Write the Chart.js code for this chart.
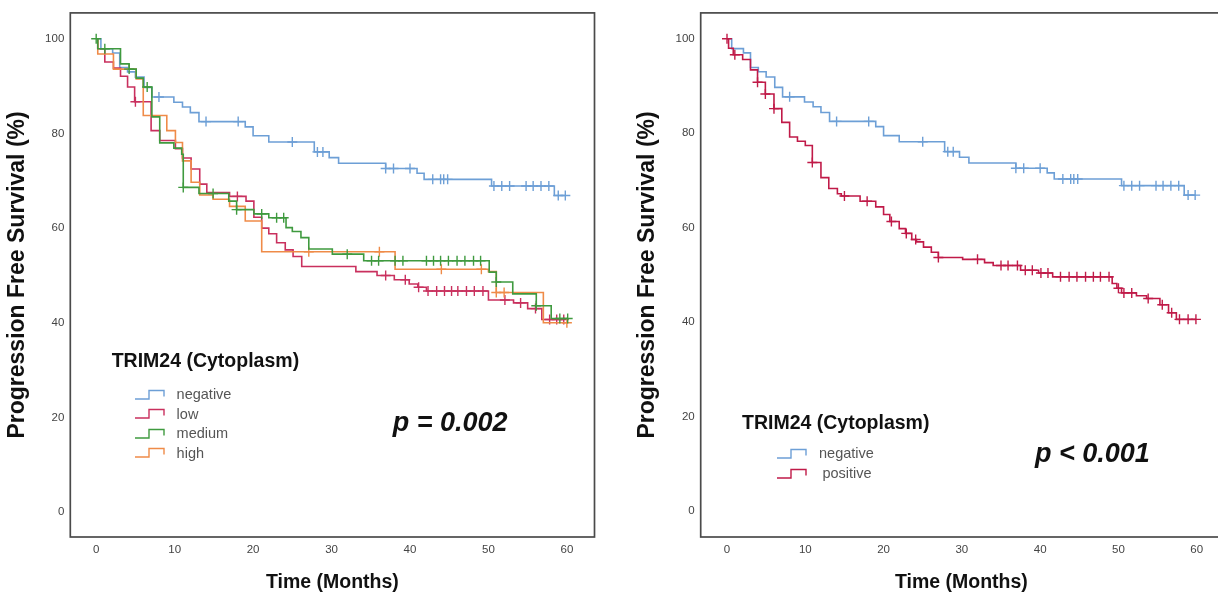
<!DOCTYPE html>
<html>
<head>
<meta charset="utf-8">
<script src="https://cdn.jsdelivr.net/npm/chart.js@4.4.1/dist/chart.umd.min.js"></script>
<style>
html,body{margin:0;padding:0;width:1218px;height:596px;overflow:hidden;background:#fff;font-family:"Liberation Sans",Arial,sans-serif;}
.wrap{position:absolute;top:0;height:596px;}
#w1{left:0;width:609px;}
#w2{left:630px;width:600px;}
.lt{position:absolute;font-weight:bold;font-size:19.5px;line-height:22px;color:#111;white-space:nowrap;}
.li{position:absolute;font-size:14.5px;line-height:18px;color:#555;white-space:nowrap;}
.ic{position:absolute;width:32px;height:11px;}
.pv{position:absolute;font-weight:bold;font-style:italic;font-size:27px;line-height:30px;color:#111;white-space:nowrap;}
</style>
</head>
<body>
<div class="wrap" id="w1"><canvas id="c1" width="609" height="596"></canvas></div>
<div class="wrap" id="w2"><canvas id="c2" width="600" height="596"></canvas></div>

<div id="overlay"></div>

<script>
// ---------- data ----------
const xTicks = [0, 10, 20, 30, 40, 50, 60];
const yTicks = [0, 20, 40, 60, 80, 100];

const legendTitle = "TRIM24 (Cytoplasm)";
const leftLabels = ["negative", "low", "medium", "high"];
const rightLabels = ["negative", "positive"];
const leftP = "p = 0.002";
const rightP = "p < 0.001";

// negative (same group in both panels)
const negTimes = [0, 0.6, 2.1, 3.0, 4.0, 5.0, 6.1, 7.1, 9.9, 11.0, 12.0, 13.1, 19.0, 20.0, 22.0, 27.8, 29.7, 30.9, 36.9, 40.9, 41.8, 50.4, 58.4];
const negSurv  = [100, 97.9, 97.0, 93.9, 93.0, 91.9, 89.7, 87.7, 86.6, 85.6, 84.4, 82.5, 81.4, 79.5, 78.2, 76.1, 74.9, 73.7, 72.6, 71.6, 70.3, 68.9, 66.9];
const negCensor = [8.0, 14.0, 18.1, 25.0, 28.2, 28.9, 36.9, 37.9, 40.0, 42.9, 43.9, 44.3, 44.8, 50.7, 51.7, 52.7, 54.8, 55.7, 56.7, 57.7, 58.9, 59.8];

// low
const lowTimes = [0, 0.2, 1.1, 2.2, 3.1, 4.0, 4.9, 7.0, 8.1, 10.1, 11.0, 12.1, 13.2, 14.1, 17.0, 19.1, 20.1, 21.1, 22.0, 23.0, 24.1, 25.1, 26.2, 33.1, 35.8, 38.0, 39.9, 41.0, 42.1, 50.0, 53.2, 55.0, 56.8];
const lowSurv  = [100, 97.9, 95.1, 93.8, 92.1, 89.8, 86.7, 80.6, 78.5, 76.8, 74.8, 72.5, 69.3, 67.5, 66.7, 65.7, 62.3, 60.0, 58.8, 56.9, 55.4, 54.0, 51.9, 50.8, 50.0, 49.1, 48.2, 47.5, 46.7, 44.8, 44.2, 43.0, 40.7];
const lowCensor = [5.0, 18.0, 36.9, 39.4, 41.1, 42.3, 43.4, 44.4, 45.3, 46.1, 47.2, 48.2, 49.3, 52.1, 54.1, 56.0, 57.8, 58.7, 59.6];

// medium
const medTimes = [0, 0.2, 3.1, 4.2, 5.1, 6.0, 7.1, 8.1, 9.9, 10.9, 11.1, 13.1, 16.9, 17.9, 20.1, 22.0, 24.2, 25.0, 26.1, 27.1, 30.1, 34.1, 50.1, 51.0, 53.1, 56.1, 58.0];
const medSurv  = [100, 97.9, 94.7, 93.6, 91.7, 89.8, 83.5, 78.0, 76.9, 75.6, 68.6, 67.3, 65.7, 63.9, 63.0, 62.2, 60.1, 59.3, 58.0, 55.6, 54.5, 53.1, 50.7, 48.6, 46.1, 43.6, 40.9];
const medCensor = [0, 1.1, 4.2, 6.5, 11.1, 14.9, 17.9, 21.1, 23.0, 23.9, 32.0, 35.1, 36.0, 38.1, 39.1, 42.1, 43.0, 43.9, 44.9, 46.0, 47.0, 48.1, 49.0, 51.0, 56.1, 59.1, 60.1];

// high
const highTimes = [0, 0.2, 2.2, 5.1, 6.0, 9.0, 10.1, 11.0, 12.1, 13.2, 14.9, 17.0, 19.0, 21.1, 38.1, 50.0, 51.0, 57.0];
const highSurv  = [100, 96.8, 93.6, 91.5, 83.8, 80.6, 78.1, 74.2, 69.7, 67.0, 66.1, 64.6, 61.5, 55.0, 51.3, 50.8, 46.4, 40.0];
const highCensor = [27.1, 36.1, 44.0, 49.1, 51.0, 52.0, 60.0];

// positive (right panel)
const posTimes = [0, 0.2, 0.8, 2.0, 3.0, 3.9, 4.9, 6.0, 7.0, 8.0, 9.0, 10.0, 10.9, 12.0, 13.0, 14.1, 14.6, 17.0, 19.0, 20.0, 20.8, 22.0, 22.8, 23.6, 24.2, 25.1, 26.1, 27.0, 30.1, 32.9, 34.0, 37.5, 39.8, 41.6, 49.2, 49.8, 50.4, 52.3, 53.6, 55.3, 56.4, 57.4];
const posSurv  = [100, 98.0, 96.6, 95.6, 93.4, 90.8, 88.3, 85.2, 82.3, 79.2, 78.3, 77.4, 73.8, 70.6, 68.3, 67.2, 66.7, 65.6, 64.4, 62.8, 61.3, 59.8, 58.8, 57.5, 57.0, 55.9, 54.8, 53.7, 53.3, 52.6, 52.0, 51.0, 50.4, 49.6, 48.2, 47.2, 46.2, 45.6, 45.0, 43.7, 42.0, 40.6];
const posCensor = [0, 1.0, 3.9, 4.9, 6.0, 10.9, 15.0, 17.9, 21.0, 22.9, 24.1, 27.0, 32.0, 35.0, 35.9, 37.1, 38.1, 39.0, 40.1, 41.0, 42.6, 43.7, 44.7, 45.8, 46.8, 47.7, 48.8, 50.0, 50.7, 51.7, 53.8, 55.6, 56.8, 57.8, 58.9, 59.9];

// ---------- styling ----------
const FONT = '"Liberation Sans", Arial, sans-serif';
const C_NEG = '#6d9fd6';
const C_LOW = '#c9305e';
const C_MED = '#3f9a3f';
const C_HIGH = '#ef8b48';
const C_POS = '#c01a48';

function survAt(times, surv, t) {
  let s = surv[0];
  for (let i = 0; i < times.length; i++) if (times[i] <= t + 1e-9) s = surv[i];
  return s;
}

const framePlugin = {
  id: 'frame',
  beforeDatasetsDraw(chart) {
    const { ctx, chartArea: a } = chart;
    ctx.save();
    ctx.strokeStyle = '#4a4a4a';
    ctx.lineWidth = 1.7;
    ctx.strokeRect(a.left, a.top, a.right - a.left, a.bottom - a.top);
    ctx.restore();
  }
};

function buildChart(id, cfg) {
  const datasets = [];
  cfg.groups.forEach(g => {
    const line = g.times.map((t, i) => ({ x: t, y: g.surv[i] }));
    const lastC = Math.max(...g.censor);
    if (lastC > g.times[g.times.length - 1]) line.push({ x: lastC, y: g.surv[g.surv.length - 1] });
    datasets.push({
      type: 'line', label: g.label, data: line, stepped: 'before',
      borderColor: g.color, borderWidth: 1.6, pointRadius: 0, fill: false, order: g.order
    });
    datasets.push({
      type: 'scatter', label: g.label + ' (censored)',
      data: g.censor.map(t => ({ x: t, y: survAt(g.times, g.surv, t) })),
      pointStyle: 'cross', pointRadius: 5, borderColor: g.color, backgroundColor: g.color,
      borderWidth: 1.4, order: g.order
    });
  });
  return new Chart(document.getElementById(id), {
    data: { datasets },
    plugins: [framePlugin],
    options: {
      responsive: false, animation: false, devicePixelRatio: 1,
      layout: { padding: { top: cfg.padTop, right: cfg.padRight, left: 0, bottom: 0 } },
      plugins: { legend: { display: false }, tooltip: { enabled: false } },
      scales: {
        x: {
          type: 'linear', min: cfg.xmin, max: cfg.xmax,
          grid: { display: false, drawTicks: false }, border: { display: false },
          afterBuildTicks: s => { s.ticks = xTicks.map(v => ({ value: v })); },
          afterFit: s => { s.height = 59; },
          ticks: { font: { size: 11.5, family: FONT }, color: '#444', padding: 6, autoSkip: false, maxRotation: 0 },
          title: { display: true, text: 'Time (Months)', color: '#111',
                   font: { size: 19.5, weight: 'bold', family: FONT }, padding: { top: 0, bottom: 1.3 } }
        },
        y: {
          type: 'linear', min: cfg.ymin, max: cfg.ymax,
          grid: { display: false, drawTicks: false }, border: { display: false },
          afterBuildTicks: s => { s.ticks = yTicks.map(v => ({ value: v })); },
          afterFit: s => { s.width = cfg.yAxisW; },
          ticks: { font: { size: 11.5, family: FONT }, color: '#444', padding: 6, autoSkip: false },
          title: { display: true, text: 'Progression Free Survival (%)', color: '#111',
                   font: { size: 23, weight: 'bold', family: FONT }, padding: { top: 4.2, bottom: 0 } }
        }
      }
    }
  });
}

buildChart('c1', {
  padTop: 11, padRight: 14.5, yAxisW: 70.3,
  xmin: -3.30, xmax: 63.52, ymin: -5.26, ymax: 105.47,
  groups: [
    { label: leftLabels[0], times: negTimes, surv: negSurv, censor: negCensor, color: C_NEG, order: 4 },
    { label: leftLabels[1], times: lowTimes, surv: lowSurv, censor: lowCensor, color: C_LOW, order: 3 },
    { label: leftLabels[3], times: highTimes, surv: highSurv, censor: highCensor, color: C_HIGH, order: 2 },
    { label: leftLabels[2], times: medTimes, surv: medSurv, censor: medCensor, color: C_MED, order: 1 }
  ]
});

buildChart('c2', {
  padTop: 10, padRight: 8, yAxisW: 70.7,
  xmin: -3.36, xmax: 63.23, ymin: -5.47, ymax: 105.47,
  groups: [
    { label: rightLabels[0], times: negTimes, surv: negSurv, censor: negCensor, color: C_NEG, order: 2 },
    { label: rightLabels[1], times: posTimes, surv: posSurv, censor: posCensor, color: C_POS, order: 1 }
  ]
});

// ---------- legends & annotations (HTML text) ----------
const ov = document.getElementById('overlay');
function addDiv(cls, text, left, centerY, lh) {
  const d = document.createElement('div');
  d.className = cls; d.textContent = text;
  d.style.left = left + 'px'; d.style.top = (centerY - lh / 2) + 'px';
  ov.appendChild(d);
}
function addIcon(left, centerY, color) {
  const ns = 'http://www.w3.org/2000/svg';
  const s = document.createElementNS(ns, 'svg');
  s.setAttribute('class', 'ic'); s.setAttribute('width', '32'); s.setAttribute('height', '11');
  s.style.left = left + 'px'; s.style.top = (centerY - 5.5) + 'px';
  const p = document.createElementNS(ns, 'path');
  p.setAttribute('d', 'M1 10 H15 V1.5 H30 V7.5');
  p.setAttribute('fill', 'none'); p.setAttribute('stroke', color); p.setAttribute('stroke-width', '1.4');
  s.appendChild(p); ov.appendChild(s);
}

// left panel
addDiv('lt', legendTitle, 111.7, 360, 22);
const leftColors = [C_NEG, C_LOW, C_MED, C_HIGH];
const leftY = [394, 413.5, 433.3, 452.7];
leftLabels.forEach((l, i) => { addIcon(134, leftY[i], leftColors[i]); addDiv('li', l, 176.6, leftY[i], 18); });
addDiv('pv', leftP, 392.8, 421.7, 30);

// right panel
addDiv('lt', legendTitle, 742, 421.7, 22);
const rightColors = [C_NEG, C_POS];
const rightY = [453.3, 473.3];
const rightX = [819, 822.4];
rightLabels.forEach((l, i) => { addIcon(776, rightY[i], rightColors[i]); addDiv('li', l, rightX[i], rightY[i], 18); });
addDiv('pv', rightP, 1035, 453.3, 30);
</script>
</body>
</html>
